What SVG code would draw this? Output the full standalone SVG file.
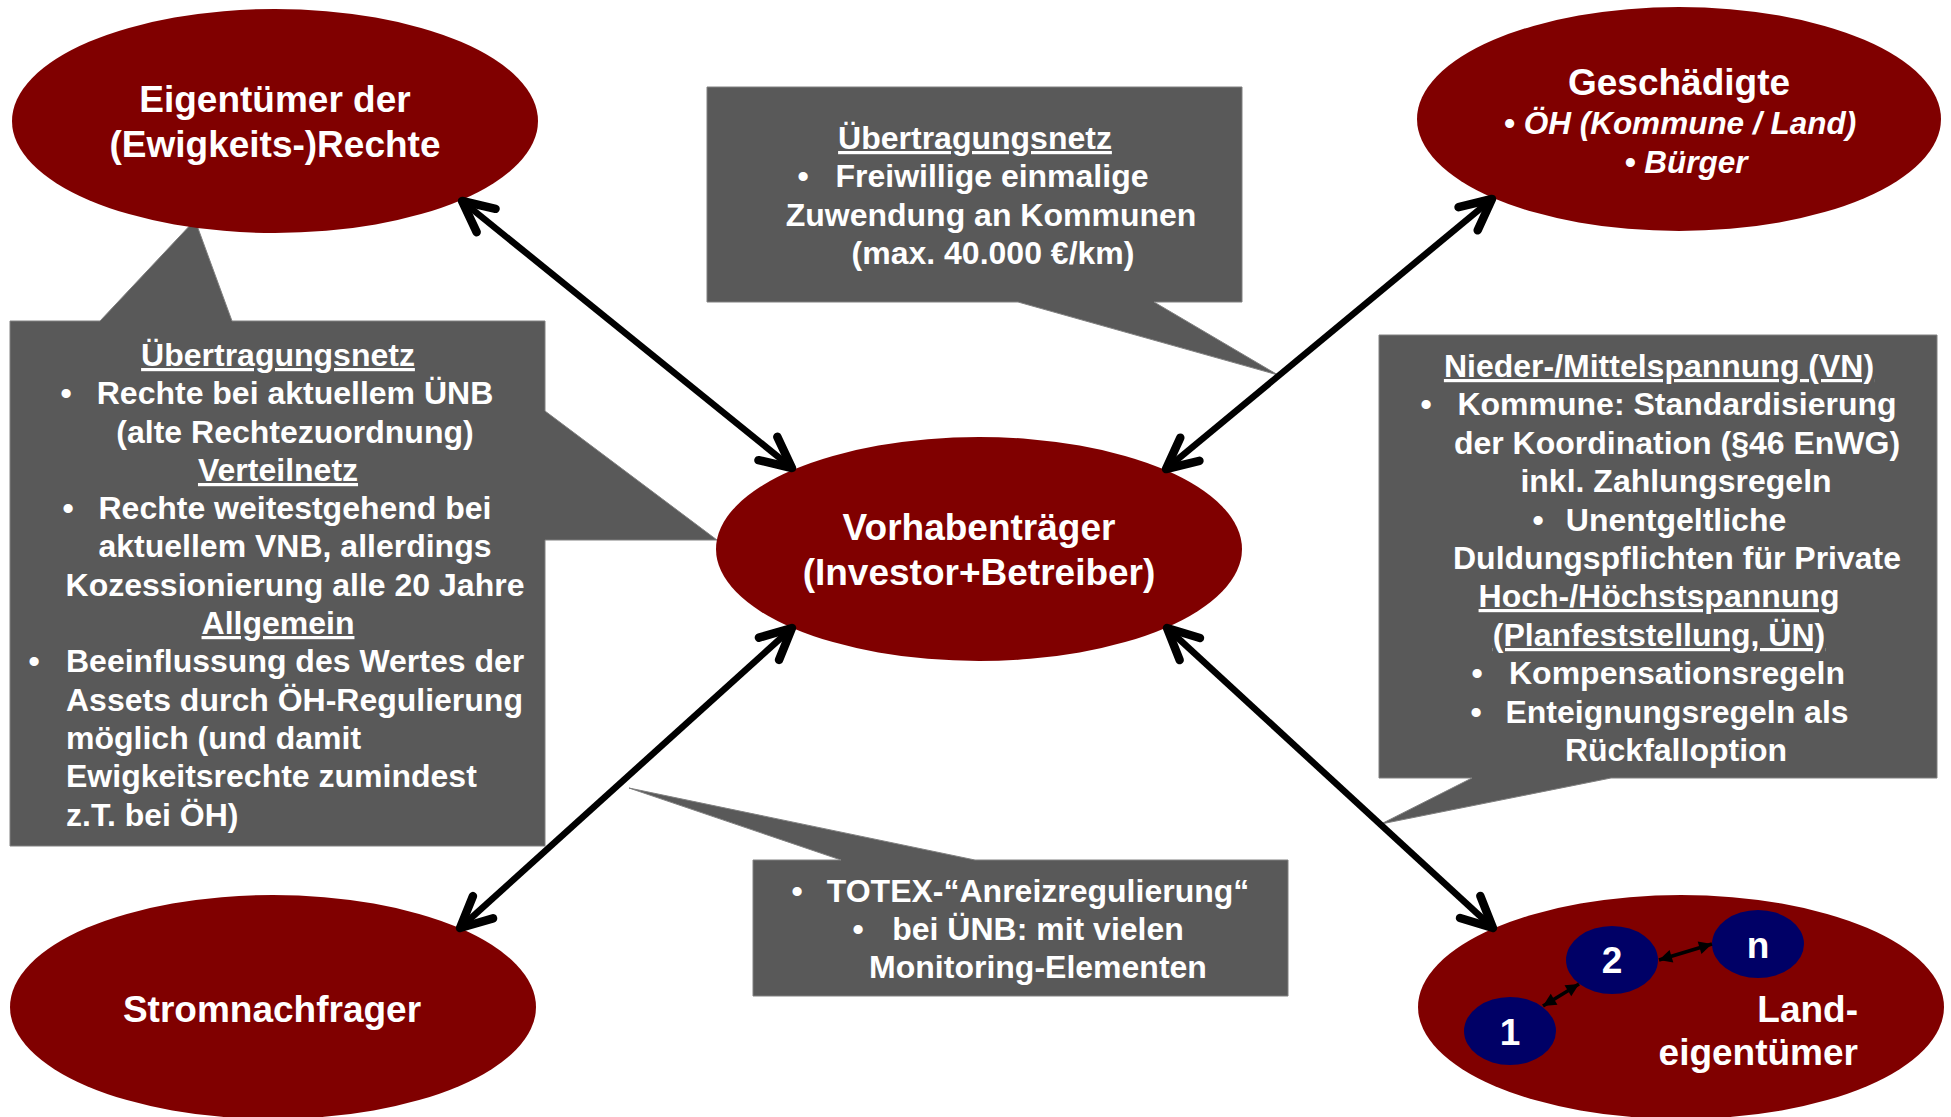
<svg xmlns="http://www.w3.org/2000/svg" width="1951" height="1117" viewBox="0 0 1951 1117">
<defs>
<style>
.node{fill:#800000}
.sub{fill:#000066}
.box{fill:#595959;stroke:#808080;stroke-width:1}
text{font-family:"Liberation Sans",Arial,sans-serif;font-weight:bold;fill:#ffffff}
.t37{font-size:37px;text-anchor:middle}
.t32{font-size:32px;text-anchor:middle}
.l32{font-size:32px;text-anchor:start}
.it{font-size:31.5px;font-style:italic;text-anchor:middle}
.u{text-decoration:underline}
.conn{stroke:#000;stroke-width:6.5;fill:none}
.thin{stroke:#000;stroke-width:3.5;fill:none}
</style>
<marker id="ah" viewBox="-42 -24 48 48" refX="0" refY="0" markerWidth="48" markerHeight="48" markerUnits="userSpaceOnUse" orient="auto-start-reverse">
<path d="M-31,-15 L0,0 L-31,15" fill="none" stroke="#000" stroke-width="8.5" stroke-linecap="round" stroke-linejoin="round"/>
</marker>
<marker id="sh" viewBox="-14 -8 15 16" refX="0" refY="0" markerWidth="15" markerHeight="16" markerUnits="userSpaceOnUse" orient="auto-start-reverse">
<path d="M-13,-6.5 L0,0 L-13,6.5 Z" fill="#000"/>
</marker>
</defs>
<rect width="1951" height="1117" fill="#ffffff"/>

<g id="callout-left">
<path class="box" d="M10,321 L100,321 L195,220 L232,321 L545,321 L545,411 L717,540 L545,540 L545,846 L10,846 Z"/>
<text class="t32 u" x="278" y="366">Übertragungsnetz</text>
<text class="t32" x="66" y="404">•</text>
<text class="t32" x="295" y="404">Rechte bei aktuellem ÜNB</text>
<text class="t32" x="295" y="443">(alte Rechtezuordnung)</text>
<text class="t32 u" x="278" y="481">Verteilnetz</text>
<text class="t32" x="68" y="519">•</text>
<text class="t32" x="295" y="519">Rechte weitestgehend bei</text>
<text class="t32" x="295" y="557">aktuellem VNB, allerdings</text>
<text class="t32" x="295" y="596">Kozessionierung alle 20 Jahre</text>
<text class="t32 u" x="278" y="634">Allgemein</text>
<text class="t32" x="34" y="672">•</text>
<text class="l32" x="66" y="672">Beeinflussung des Wertes der</text>
<text class="l32" x="66" y="711">Assets durch ÖH-Regulierung</text>
<text class="l32" x="66" y="749">möglich (und damit</text>
<text class="l32" x="66" y="787">Ewigkeitsrechte zumindest</text>
<text class="l32" x="66" y="826">z.T. bei ÖH)</text>
</g>

<g id="callout-top">
<path class="box" d="M707,87 L1242,87 L1242,302 L1154,302 L1278,375 L1018,302 L707,302 Z"/>
<text class="t32 u" x="975" y="149">Übertragungsnetz</text>
<text class="t32" x="803" y="187">•</text>
<text class="t32" x="992" y="187">Freiwillige einmalige</text>
<text class="t32" x="991" y="226">Zuwendung an Kommunen</text>
<text class="t32" x="993" y="264">(max. 40.000 €/km)</text>
</g>

<g id="callout-right">
<path class="box" d="M1379,335 L1937,335 L1937,778 L1611,778 L1381,824 L1472,778 L1379,778 Z"/>
<text class="t32 u" x="1659" y="377">Nieder-/Mittelspannung (VN)</text>
<text class="t32" x="1426" y="415">•</text>
<text class="t32" x="1677" y="415">Kommune: Standardisierung</text>
<text class="t32" x="1677" y="454">der Koordination (§46 EnWG)</text>
<text class="t32" x="1676" y="492">inkl. Zahlungsregeln</text>
<text class="t32" x="1538" y="531">•</text>
<text class="t32" x="1676" y="531">Unentgeltliche</text>
<text class="t32" x="1677" y="569">Duldungspflichten für Private</text>
<text class="t32 u" x="1659" y="607">Hoch-/Höchstspannung</text>
<text class="t32 u" x="1659" y="646">(Planfeststellung, ÜN)</text>
<text class="t32" x="1477" y="684">•</text>
<text class="t32" x="1677" y="684">Kompensationsregeln</text>
<text class="t32" x="1476" y="723">•</text>
<text class="t32" x="1677" y="723">Enteignungsregeln als</text>
<text class="t32" x="1676" y="761">Rückfalloption</text>
</g>

<g id="callout-bottom">
<path class="box" d="M753,860 L841,860 L629,788 L975,860 L1288,860 L1288,996 L753,996 Z"/>
<text class="t32" x="797" y="902">•</text>
<text class="t32" x="1038" y="902">TOTEX-“Anreizregulierung“</text>
<text class="t32" x="858" y="940">•</text>
<text class="t32" x="1038" y="940">bei ÜNB: mit vielen</text>
<text class="t32" x="1038" y="978">Monitoring-Elementen</text>
</g>

<g id="node-eigentuemer">
<ellipse class="node" cx="275" cy="121" rx="263" ry="112"/>
<text class="t37" x="275" y="112">Eigentümer der</text>
<text class="t37" x="275" y="157">(Ewigkeits-)Rechte</text>
</g>

<g id="node-geschaedigte">
<ellipse class="node" cx="1679" cy="119" rx="262" ry="112"/>
<text class="t37" x="1679" y="95">Geschädigte</text>
<text class="it" x="1680" y="134">• ÖH (Kommune / Land)</text>
<text class="it" x="1686" y="173">• Bürger</text>
</g>

<g id="node-vorhabentraeger">
<ellipse class="node" cx="979" cy="549" rx="263" ry="112"/>
<text class="t37" x="979" y="540">Vorhabenträger</text>
<text class="t37" x="979" y="585">(Investor+Betreiber)</text>
</g>

<g id="node-stromnachfrager">
<ellipse class="node" cx="273" cy="1007" rx="263" ry="112"/>
<text class="t37" x="272" y="1022">Stromnachfrager</text>
</g>

<g id="node-landeigentuemer">
<ellipse class="node" cx="1681" cy="1007" rx="263" ry="112"/>
<text class="t37" x="1858" y="1022" style="text-anchor:end">Land-</text>
<text class="t37" x="1858" y="1065" style="text-anchor:end">eigentümer</text>
<g id="owner-1">
<ellipse class="sub" cx="1510" cy="1031" rx="46" ry="34"/>
<text class="t37" x="1510" y="1045">1</text>
</g>
<g id="owner-2">
<ellipse class="sub" cx="1612" cy="960" rx="46" ry="34"/>
<text class="t37" x="1612" y="973">2</text>
</g>
<g id="owner-n">
<ellipse class="sub" cx="1758" cy="944" rx="46" ry="34"/>
<text class="t37" x="1758" y="958">n</text>
</g>
</g>

<g id="connectors">
<line class="conn" x1="462" y1="201" x2="792" y2="468" marker-start="url(#ah)" marker-end="url(#ah)"/>
<line class="conn" x1="1492" y1="199" x2="1166" y2="469" marker-start="url(#ah)" marker-end="url(#ah)"/>
<line class="conn" x1="792" y1="628" x2="460" y2="928" marker-start="url(#ah)" marker-end="url(#ah)"/>
<line class="conn" x1="1167" y1="628" x2="1493" y2="928" marker-start="url(#ah)" marker-end="url(#ah)"/>
<line class="thin" x1="1543" y1="1006" x2="1579" y2="984" marker-start="url(#sh)" marker-end="url(#sh)"/>
<line class="thin" x1="1659" y1="960" x2="1712" y2="944" marker-start="url(#sh)" marker-end="url(#sh)"/>
</g>
</svg>
